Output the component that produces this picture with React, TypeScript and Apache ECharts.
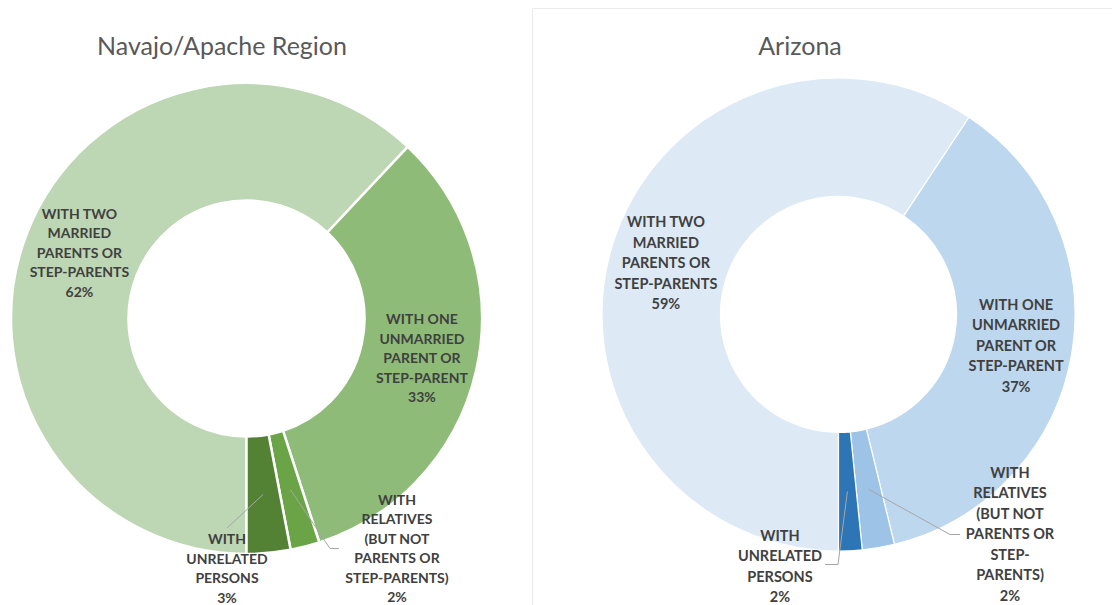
import React, { useEffect, useRef } from "react";
import * as echarts from "echarts";

// ---------- data ----------
const leftTitle = "Navajo/Apache Region";
const rightTitle = "Arizona";

const leftCategories = [
  "WITH TWO\nMARRIED\nPARENTS OR\nSTEP-PARENTS",
  "WITH ONE\nUNMARRIED\nPARENT OR\nSTEP-PARENT",
  "WITH\nRELATIVES\n(BUT NOT\nPARENTS OR\nSTEP-PARENTS)",
  "WITH\nUNRELATED\nPERSONS",
];
const rightCategories = [
  "WITH TWO\nMARRIED\nPARENTS OR\nSTEP-PARENTS",
  "WITH ONE\nUNMARRIED\nPARENT OR\nSTEP-PARENT",
  "WITH\nRELATIVES\n(BUT NOT\nPARENTS OR\nSTEP-\nPARENTS)",
  "WITH\nUNRELATED\nPERSONS",
];
const leftValues = [62, 33, 2, 3];
const rightValues = [59.3, 36.9, 2.2, 1.6];

const leftColors = ["#BDD6B3", "#8FBB78", "#6AA446", "#548235"];
const rightColors = ["#DDEAF6", "#BDD7EE", "#9DC3E6", "#2E75B6"];

// ---------- layout ----------
type Geo = { cx: number; cy: number; r0: number; r1: number };
const L: Geo = { cx: 246.5, cy: 318.5, r0: 118, r1: 235.5 };
const R: Geo = { cx: 838.5, cy: 314.5, r0: 118, r1: 236.5 };

function sliceMid(values: number[], idx: number, g: Geo) {
  const total = values.reduce((a, b) => a + b, 0);
  let cum = 0;
  for (let i = 0; i < idx; i++) cum += values[i];
  const theta = ((180 + (360 * (cum + values[idx] / 2)) / total) * Math.PI) / 180;
  const rm = (g.r0 + g.r1) / 2;
  return [g.cx + rm * Math.sin(theta), g.cy - rm * Math.cos(theta)];
}

const labelFont = "Lato";
const labelColor = "#404040";

type Outside = Record<number, { x: number; y: number; pts: number[][] }>;

function buildSeries(
  names: string[],
  values: number[],
  colors: string[],
  g: Geo,
  fontSize: number,
  lineHeight: number,
  borderWidth: number,
  outside: Outside
) {
  return {
    type: "pie",
    center: [g.cx, g.cy],
    radius: [g.r0, g.r1],
    startAngle: 270,
    clockwise: true,
    avoidLabelOverlap: false,
    percentPrecision: 0,
    itemStyle: { borderColor: "#ffffff", borderWidth },
    label: {
      show: true,
      position: "inside",
      formatter: (p: any) => `${p.name}\n${Math.round(p.percent)}%`,
      fontFamily: labelFont,
      fontWeight: "bold",
      fontSize,
      lineHeight,
      color: labelColor,
      align: "center",
    },
    labelLine: { show: false },
    labelLayout: (p: any) => {
      const o = outside[p.dataIndex];
      if (!o) return {};
      return { x: o.x, y: o.y, align: "center", verticalAlign: "middle" };
    },
    emphasis: { disabled: true },
    data: names.map((n, i) => ({
      name: n,
      value: values[i],
      itemStyle: { color: colors[i] },
    })),
  };
}

function leaderLines(values: number[], g: Geo, outside: Outside) {
  return Object.keys(outside).map((k) => {
    const idx = Number(k);
    return {
      type: "polyline",
      z: 100,
      silent: true,
      shape: { points: [sliceMid(values, idx, g), ...outside[idx].pts] },
      style: { stroke: "#A6A6A6", lineWidth: 1, fill: "none" },
    };
  });
}

export default function App() {
  const ref = useRef<HTMLDivElement>(null);
  useEffect(() => {
    if (!ref.current) return;
    const chart = echarts.init(ref.current, undefined, { renderer: "svg" });
    const leftOutside: Outside = {
      2: { x: 397, y: 548, pts: [[330, 548.5], [339, 548.5]] },
      3: { x: 227, y: 568, pts: [[227, 528]] },
    };
    const rightOutside: Outside = {
      2: { x: 1010, y: 533.5, pts: [[950, 534.5], [960, 534.5]] },
      3: { x: 780, y: 566, pts: [[838, 564.5], [825, 564.5]] },
    };
    chart.setOption({
      animation: false,
      backgroundColor: "#ffffff",
      graphic: [
        {
          type: "rect",
          z: -10,
          shape: { x: 532.5, y: 8.5, width: 700, height: 700 },
          style: { fill: "none", stroke: "#EBEBEB", lineWidth: 1 },
          silent: true,
        },
        {
          type: "text",
          x: 222,
          y: 45,
          style: {
            text: leftTitle,
            align: "center",
            verticalAlign: "middle",
            fontFamily: labelFont,
            fontSize: 25,
            fill: "#595959",
          },
        },
        {
          type: "text",
          x: 800,
          y: 45,
          style: {
            text: rightTitle,
            align: "center",
            verticalAlign: "middle",
            fontFamily: labelFont,
            fontSize: 25,
            fill: "#595959",
          },
        },
        ...leaderLines(leftValues, L, leftOutside),
        ...leaderLines(rightValues, R, rightOutside),
      ],
      series: [
        buildSeries(leftCategories, leftValues, leftColors, L, 14, 19.5, 2.5, leftOutside),
        buildSeries(rightCategories, rightValues, rightColors, R, 14.5, 20.5, 1.2, rightOutside),
      ],
    });
    return () => chart.dispose();
  }, []);
  return (
    <div
      ref={ref}
      style={{ position: "absolute", left: 0, top: 0, width: 1112, height: 605 }}
    />
  );
}
